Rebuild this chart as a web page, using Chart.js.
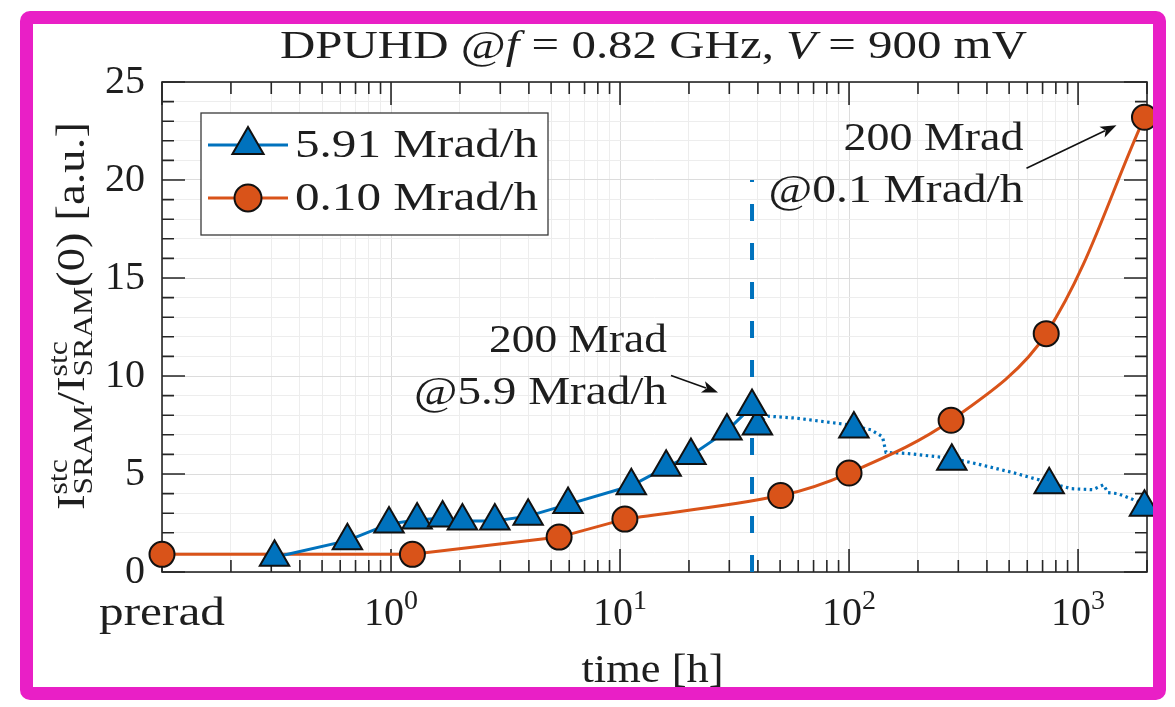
<!DOCTYPE html>
<html><head><meta charset="utf-8">
<script src="https://cdn.jsdelivr.net/npm/chart.js@4"></script>
<style>
html,body{margin:0;padding:0;background:#fff;}
#wrap{position:relative;width:1175px;height:707px;overflow:hidden;background:#fff;}
#c{position:absolute;left:0;top:0;}
#frame{position:absolute;left:20px;top:11px;width:1146px;height:689px;box-sizing:border-box;border:13px solid #E91FC6;border-radius:10px;pointer-events:none;}
</style></head><body>
<div id="wrap"><canvas id="c" width="1175" height="707"></canvas><div id="frame"></div></div>
<script>
// ---------------- data ----------------
const xMin = 0.1, xMax = 2000;        // "prerad" is drawn at 0.1 h
const yMin = 0, yMax = 25;
const blueDoseTimes   = [0.31, 0.645, 0.98, 1.30, 1.68, 2.05, 2.84, 3.97, 5.93, 11.2, 15.9, 20.4, 29.3, 37.7];
const blueDoseValues  = [0.75, 1.6, 2.45, 2.65, 2.75, 2.6, 2.6, 2.85, 3.45, 4.4, 5.35, 5.95, 7.2, 8.45];
const blueAnnealTimes  = [39.8, 105, 281, 748, 1950];
const blueAnnealValues = [7.45, 7.3, 5.65, 4.45, 3.3];
const blueTraceTimes  = [39.8, 44.3, 59, 94, 105, 125, 140, 145, 179, 281, 367, 508, 677, 748, 934, 1158, 1291, 1350, 1490, 1783, 1950];
const blueTraceValues = [7.6, 7.95, 7.85, 7.55, 7.45, 7.25, 6.9, 6.1, 6.05, 5.8, 5.5, 5.1, 4.7, 4.55, 4.25, 4.2, 4.45, 4.05, 4.0, 3.65, 3.45];
const orangeTimes  = [0.1, 1.24, 5.42, 10.5, 50.3, 100, 279, 726, 1950];
const orangeValues = [0.9, 0.9, 1.78, 2.7, 3.9, 5.05, 7.74, 12.16, 23.2];
const doseLineTime = 37.7;
const doseLineTop = 20;
const seriesLabels = ['5.91 Mrad/h', '0.10 Mrad/h'];
const xTickValues = [0.1, 1, 10, 100, 1000];
const xTickLabels = ['prerad', '10^0', '10^1', '10^2', '10^3'];
const yTickValues = [0, 5, 10, 15, 20, 25];
const titleParts = [['DPUHD @', false], ['f', true], [' = 0.82 GHz, ', false], ['V', true], [' = 900 mV', false]];
const xTitle = 'time [h]';
const annotation1 = ['200 Mrad', '@5.9 Mrad/h'];
const annotation2 = ['200 Mrad', '@0.1 Mrad/h'];

// ---------------- style ----------------
const BLUE = '#0072BD', ORANGE = '#D95319', AXIS = '#262626', TXT = '#1e1e1e';
const FONT = '"Liberation Serif", "Times New Roman", serif';

function pts(xs, ys){ return xs.map((x,i)=>({x:x, y:ys[i]})); }
function isDecade(v){ const l = Math.log10(v); return Math.abs(l - Math.round(l)) < 1e-6; }
const xGrid = [];
for (let e = -1; e <= 3; e++) for (let m = 1; m <= 9; m++) { const v = +(m*Math.pow(10,e)).toPrecision(6); if (v <= xMax + 1e-9) xGrid.push(v); }
const yGrid = []; for (let v = yMin; v <= yMax; v++) yGrid.push(v);

function font(size, italic){ return (italic ? 'italic ' : '') + size + 'px ' + FONT; }
// parts: {t,size,italic,dy} or {sup,sub,size,supDy,subDy}
function partWidth(ctx, p){
  if (p.sup !== undefined) { ctx.font = font(p.size); return Math.max(ctx.measureText(p.sup).width, ctx.measureText(p.sub||'').width); }
  ctx.font = font(p.size, p.italic); return ctx.measureText(p.t).width;
}
function drawRich(ctx, parts, x, y, align, target){
  let total = 0; parts.forEach(p => total += partWidth(ctx, p));
  const sx = target ? target/total : 1;
  const w = total*sx;
  const sx0 = align === 'left' ? x : align === 'right' ? x - w : x - w/2;
  ctx.save(); ctx.translate(sx0, y); ctx.scale(sx, 1);
  ctx.textAlign = 'left'; ctx.textBaseline = 'alphabetic'; ctx.fillStyle = TXT;
  let cx = 0;
  parts.forEach(p => {
    const pw = partWidth(ctx, p);
    if (p.sup !== undefined) {
      ctx.font = font(p.size);
      ctx.fillText(p.sup, cx, p.supDy);
      if (p.sub) ctx.fillText(p.sub, cx, p.subDy);
    } else {
      ctx.font = font(p.size, p.italic);
      ctx.fillText(p.t, cx, p.dy || 0);
    }
    cx += pw;
  });
  ctx.restore();
}
function tickParts(label){
  const i = label.indexOf('^');
  if (i < 0) return [{t:label, size:40}];
  return [{t:label.slice(0,i), size:40}, {t:label.slice(i+1), size:28, dy:-16}];
}
function arrow(ctx, x1, y1, x2, y2){
  const a = Math.atan2(y2-y1, x2-x1), L = 16, W = 6;
  ctx.save(); ctx.strokeStyle = '#111'; ctx.fillStyle = '#111'; ctx.lineWidth = 1.6;
  ctx.beginPath(); ctx.moveTo(x1,y1); ctx.lineTo(x2 - Math.cos(a)*L*0.8, y2 - Math.sin(a)*L*0.8); ctx.stroke();
  ctx.beginPath(); ctx.moveTo(x2,y2);
  ctx.lineTo(x2 - Math.cos(a)*L + Math.sin(a)*W, y2 - Math.sin(a)*L - Math.cos(a)*W);
  ctx.lineTo(x2 - Math.cos(a)*L*0.75, y2 - Math.sin(a)*L*0.75);
  ctx.lineTo(x2 - Math.cos(a)*L - Math.sin(a)*W, y2 - Math.sin(a)*L + Math.cos(a)*W);
  ctx.closePath(); ctx.fill(); ctx.restore();
}
function marker(ctx, style, x, y, r, color){
  ctx.save(); ctx.fillStyle = color; ctx.strokeStyle = '#111'; ctx.lineWidth = 2;
  ctx.beginPath();
  if (style === 'triangle') {
    ctx.moveTo(x, y - r); ctx.lineTo(x + r*Math.sin(Math.PI/3), y + r/2); ctx.lineTo(x - r*Math.sin(Math.PI/3), y + r/2); ctx.closePath();
  } else ctx.arc(x, y, r, 0, Math.PI*2);
  ctx.fill(); ctx.stroke(); ctx.restore();
}

const axesPlugin = {
  id: 'axesBox',
  beforeDatasetsDraw(chart){
    const ctx = chart.ctx, {left, right, top, bottom} = chart.chartArea;
    const xs = chart.scales.x, ys = chart.scales.y;
    ctx.save(); ctx.strokeStyle = AXIS; ctx.lineWidth = 1.6;
    ctx.strokeRect(left, top, right-left, bottom-top);
    ctx.beginPath();
    xGrid.forEach(v => { const p = xs.getPixelForValue(v), L = isDecade(v) ? 23 : 12;
      ctx.moveTo(p, bottom); ctx.lineTo(p, bottom - L); ctx.moveTo(p, top); ctx.lineTo(p, top + L); });
    yGrid.forEach(v => { const p = ys.getPixelForValue(v), L = v % 5 === 0 ? 23 : 12;
      ctx.moveTo(left, p); ctx.lineTo(left + L, p); ctx.moveTo(right, p); ctx.lineTo(right - L, p); });
    ctx.stroke(); ctx.restore();
  }
};

const overlayPlugin = {
  id: 'overlay',
  afterDraw(chart){
    const ctx = chart.ctx, {left, right, top, bottom} = chart.chartArea;
    const xs = chart.scales.x, ys = chart.scales.y;
    // y tick labels
    ctx.save(); ctx.fillStyle = TXT; ctx.font = font(40); ctx.textAlign = 'right'; ctx.textBaseline = 'alphabetic';
    yTickValues.forEach(v => ctx.fillText(String(v), left - 17, ys.getPixelForValue(v) + 11));
    ctx.restore();
    // x tick labels
    xTickValues.forEach((v, i) => {
      const lab = xTickLabels[i];
      drawRich(ctx, tickParts(lab), xs.getPixelForValue(v), bottom + 53, 'center', lab === 'prerad' ? 126 : null);
    });
    // x title
    drawRich(ctx, [{t:xTitle, size:40}], (left+right)/2 - 2, bottom + 110, 'center', 142);
    // y title
    ctx.save(); ctx.translate(84, 316); ctx.rotate(-Math.PI/2);
    drawRich(ctx, [
      {t:'I', size:40}, {sup:'stc', sub:'SRAM', size:27, supDy:-17, subDy:8},
      {t:'/', size:40}, {t:'I', size:40}, {sup:'stc', sub:'SRAM', size:27, supDy:-17, subDy:8},
      {t:'(0) [a.u.]', size:40}
    ], 0, 0, 'center', 388);
    ctx.restore();
    // title
    drawRich(ctx, titleParts.map(p => ({t:p[0], size:40, italic:p[1]})), 280, top - 24, 'left', 747);
    // annotation 1 (peak of 5.91 Mrad/h)
    const px1 = xs.getPixelForValue(blueDoseTimes[blueDoseTimes.length-1]);
    const py1 = ys.getPixelForValue(blueDoseValues[blueDoseValues.length-1]);
    drawRich(ctx, [{t:annotation1[0], size:39}], px1 - 85, py1 - 54, 'right', 178);
    drawRich(ctx, [{t:annotation1[1], size:39}], px1 - 85, py1 - 2, 'right', 253);
    arrow(ctx, px1 - 81, py1 - 31, px1 - 34, py1 - 14);
    // annotation 2 (end of 0.10 Mrad/h)
    const px2 = xs.getPixelForValue(orangeTimes[orangeTimes.length-1]);
    const py2 = ys.getPixelForValue(orangeValues[orangeValues.length-1]);
    drawRich(ctx, [{t:annotation2[0], size:39}], px2 - 121, py2 + 33, 'right', 180);
    drawRich(ctx, [{t:annotation2[1], size:39}], px2 - 121, py2 + 85, 'right', 255);
    arrow(ctx, px2 - 118, py2 + 51, px2 - 28, py2 + 8);
    // legend
    const lx = 201, ly = 113, lw = 347, lh = 122;
    ctx.save(); ctx.fillStyle = '#fff'; ctx.fillRect(lx, ly, lw, lh);
    ctx.strokeStyle = '#3a3a3a'; ctx.lineWidth = 1.3; ctx.strokeRect(lx, ly, lw, lh); ctx.restore();
    const rows = [{y:ly+32, c:BLUE, s:'triangle', r:18}, {y:ly+85, c:ORANGE, s:'circle', r:13.5}];
    rows.forEach((row, i) => {
      ctx.save(); ctx.strokeStyle = row.c; ctx.lineWidth = 3;
      ctx.beginPath(); ctx.moveTo(lx + 7, row.y); ctx.lineTo(lx + 87, row.y); ctx.stroke(); ctx.restore();
      marker(ctx, row.s, lx + 47, row.y, row.r, row.c);
      drawRich(ctx, [{t:seriesLabels[i], size:40}], lx + 94, row.y + 12, 'left', 243);
    });
  }
};

const pointTri = {pointStyle:'triangle', pointRadius:17, pointHoverRadius:17, backgroundColor:BLUE, pointBorderColor:'#111', pointBorderWidth:2};
const pointCirc = {pointStyle:'circle', pointRadius:12.5, pointHoverRadius:12.5, backgroundColor:ORANGE, pointBorderColor:'#111', pointBorderWidth:2};
const orangeSplit = 3; // straight segments up to the 4th point, smooth fit afterwards
new Chart(document.getElementById('c'), {
  type: 'scatter',
  data: { datasets: [
    Object.assign({label: seriesLabels[0], data: pts(blueDoseTimes, blueDoseValues), showLine:true, borderColor:BLUE, borderWidth:3, tension:0, clip:false}, pointTri),
    Object.assign({label: seriesLabels[0] + ' (anneal)', data: pts(blueAnnealTimes, blueAnnealValues), showLine:false, borderColor:BLUE, clip:false}, pointTri),
    Object.assign({label: seriesLabels[1], data: pts(orangeTimes, orangeValues), showLine:false, borderColor:ORANGE, clip:false}, pointCirc),
    {label: seriesLabels[1] + ' (early)', data: pts(orangeTimes.slice(0, orangeSplit + 1), orangeValues.slice(0, orangeSplit + 1)), showLine:true,
     borderColor:ORANGE, borderWidth:3, tension:0, pointRadius:0, clip:false},
    {label: seriesLabels[1] + ' (fit)', data: pts(orangeTimes.slice(orangeSplit), orangeValues.slice(orangeSplit)), showLine:true,
     borderColor:ORANGE, borderWidth:3, tension:0.35, pointRadius:0, clip:false},
    {label: 'anneal trace', data: pts(blueTraceTimes, blueTraceValues), showLine:true, borderColor:BLUE, borderWidth:3.2,
     borderDash:[2.5,3.5], pointRadius:0, tension:0, clip:false},
    {label: '200 Mrad', data: [{x:doseLineTime, y:yMin}, {x:doseLineTime, y:doseLineTop}], showLine:true, borderColor:BLUE,
     borderWidth:4, borderDash:[17,22], pointRadius:0, clip:false}
  ]},
  options: {
    responsive:false, animation:false, events:[],
    layout: {padding: {left:162, right:28, top:82, bottom:135}},
    scales: {
      x: {type:'logarithmic', min:xMin, max:xMax,
          afterBuildTicks: s => { s.ticks = xGrid.map(v => ({value:v})); },
          afterFit: s => { s.height = 0; },
          ticks:{display:false},
          grid:{drawTicks:false, lineWidth:1, color: c => (c.tick && isDecade(c.tick.value)) ? '#dcdcdc' : '#ededed'},
          border:{display:false}},
      y: {type:'linear', min:yMin, max:yMax,
          afterBuildTicks: s => { s.ticks = yGrid.map(v => ({value:v})); },
          afterFit: s => { s.width = 0; },
          ticks:{display:false},
          grid:{drawTicks:false, lineWidth:1, color: c => (c.tick && c.tick.value % 5 === 0) ? '#dcdcdc' : '#ededed'},
          border:{display:false}}
    },
    plugins: {legend:{display:false}, tooltip:{enabled:false}, title:{display:false}}
  },
  plugins: [axesPlugin, overlayPlugin]
});
</script>
</body></html>
